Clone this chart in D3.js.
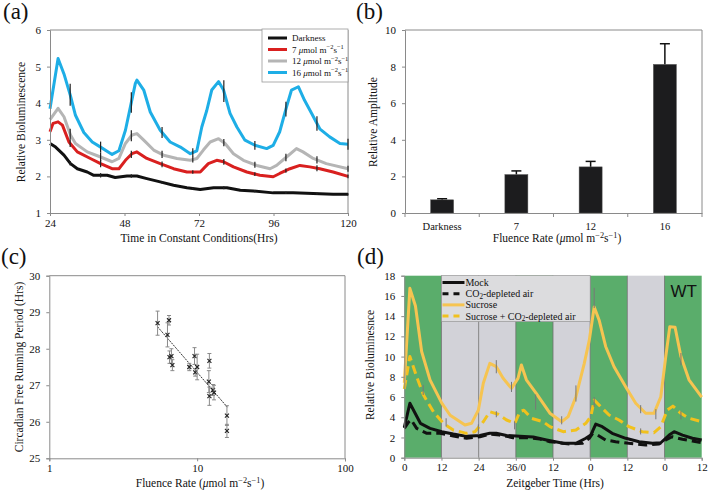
<!DOCTYPE html>
<html><head><meta charset="utf-8">
<script src="https://cdn.jsdelivr.net/npm/d3@7"></script>
<style>
body{margin:0;background:#fff}
svg{display:block}
text{font-family:"Liberation Serif","Times New Roman",serif;fill:#111}
</style>
</head><body>
<svg id="c" width="709" height="491"></svg>
<script>
// ---------- Panel (a) data ----------
const aDarkT = [24,25.8,28.5,30.6,32.8,36,38.1,42.4,45,48.8,52,55.2,59.5,63.8,68.1,72.4,76.7,81,85.3,89.5,95.9,102.3,108.8,115.2,120];
const aDarkV = [2.9,2.8,2.58,2.35,2.21,2.12,2.03,2.03,1.97,2.01,2.01,1.94,1.85,1.76,1.69,1.64,1.69,1.69,1.62,1.6,1.55,1.55,1.53,1.51,1.51];
const aRedT = [24,25,26.6,28,30.1,32.8,37,40.3,44,46.2,48.3,50.4,52,55.2,59.5,63.8,68.1,72.4,75,77.7,79.9,83.1,87.4,91.6,95.9,98,101.3,104.5,107.7,110.9,115.2,120];
const aRedV = [3.22,3.45,3.49,3.4,2.94,2.67,2.49,2.35,2.21,2.21,2.44,2.62,2.67,2.49,2.35,2.21,2.12,2.12,2.35,2.44,2.4,2.26,2.12,2.03,1.99,2.08,2.21,2.3,2.26,2.21,2.12,2.0];
const aGreyT = [24,26.6,28.5,30.6,32.2,36,40.3,44,46.2,48.3,50.4,52,54.2,57.4,60.6,64.9,69.2,71.3,73.4,75.6,78.3,80.4,83.1,86.3,90.6,94.9,97,100.2,103.4,105.5,108.8,113,120];
const aGreyV = [3.55,3.86,3.63,3.13,2.9,2.67,2.53,2.4,2.49,2.9,3.13,3.17,2.99,2.72,2.58,2.49,2.44,2.49,2.72,2.94,3.03,2.9,2.62,2.44,2.3,2.21,2.3,2.53,2.76,2.67,2.49,2.35,2.21];
const aBlueT = [24,26.6,28.5,30.6,32.2,34.9,37.6,40.3,44,46.2,48.3,49.9,51.5,52,54.2,56.3,59.5,62.7,66,69.2,71.3,72.9,74.5,76.1,78.3,79.9,82,84.2,86.8,90,93.8,95.9,98,100.2,101.8,104,106,108.3,110.9,114.1,117.4,120];
const aBlueV = [3.85,5.22,4.8,4.2,3.67,3.2,2.94,2.8,2.6,2.7,3.26,3.9,4.54,4.63,4.36,3.76,3.26,2.94,2.8,2.62,2.7,3.35,3.8,4.36,4.59,4.36,3.72,3.35,2.99,2.85,2.76,2.85,3.22,3.9,4.36,4.45,4.08,3.72,3.3,3.08,2.9,2.88];
const aErrT = [30.5,40.3,50.2,60.1,70,80,90,100,110,120];
const aDarkE = [0.06,0.06,0.05,0.04,0.03,0.04,0.03,0.03,0.03,0.03];
const aRedE = [0.1,0.1,0.1,0.08,0.05,0.08,0.05,0.06,0.08,0.05];
const aGreyE = [0.15,0.12,0.15,0.1,0.08,0.1,0.08,0.1,0.1,0.08];
const aBlueE = [0.3,0.15,0.28,0.15,0.12,0.3,0.12,0.2,0.2,0.15];
const aXTicks = [24,48,72,96,120];
const aYTicks = [1,2,3,4,5,6];
const aLegend = ["Darkness","7","12","16"];

// ---------- Panel (b) data ----------
const bCats = ["Darkness","7","12","16"];
const bVals = [0.72,2.1,2.52,8.12];
const bErr = [0.06,0.2,0.3,1.13];
const bYTicks = [0,2,4,6,8,10];

// ---------- Panel (c) data ----------
const cX = [5.4,6.45,6.3,6.5,6.7,6.8,8.85,9.6,9.7,10.0,12.1,12.0,12.1,12.8,13.0,15.9,15.9];
const cY = [28.7,28.78,28.38,27.77,27.8,27.55,27.5,27.8,27.35,27.5,27.67,27.1,26.7,26.87,26.8,26.17,25.75];
const cE = [0.33,0.13,0.33,0.17,0.2,0.15,0.1,0.23,0.1,0.35,0.2,0.3,0.25,0.15,0.2,0.27,0.18];
const cFitX = [5.4,16];
const cFitY = [28.6,26.4];
const cXTicks = [1,10,100];
const cYTicks = [25,26,27,28,29,30];

// ---------- Panel (d) data ----------
const dMockT = [0,1.8,3.5,5.2,8.3,12.1,15.8,20.1,24.4,27.6,29.7,33,37.3,41.6,45.9,51.3,55.4,58.6,60.2,61.8,63.9,67.1,71.5,75.8,80.1,82.8,85.5,87.1,89.8,93,96];
const dMockV = [3.0,5.38,4.39,3.4,2.9,2.57,2.34,2.11,2.2,2.41,2.41,2.2,2.11,2.04,1.75,1.42,1.42,1.92,2.24,3.33,3.07,2.41,1.92,1.58,1.42,1.48,2.24,2.57,2.24,1.92,1.75];
const dCO2T = [0,1.3,2.2,4,7.3,11.5,15.8,20.1,24.4,27.6,30.8,35.1,39.4,43.7,47,53.5,57.5,59.7,60.8,62.4,65,68.2,72.5,77.9,82.2,84.4,86.5,89.8,93,96];
const dCO2V = [2.9,3.5,3.75,2.9,2.41,2.41,2.15,1.92,2.07,2.34,2.24,1.98,1.98,1.85,1.58,1.35,1.42,1.92,2.41,2.24,1.75,1.58,1.42,1.25,1.35,1.75,2.07,1.82,1.65,1.48];
const dSucT = [0,1.8,3.6,5.6,8.3,12.1,14.8,19.6,21.7,23.9,25.5,27.6,29.7,31.9,34.6,36.7,37.8,39.4,42.6,47,50.8,52.9,55.4,58.1,59.7,61.3,62.9,65,67.7,71.5,74.7,77.9,80.6,82.8,84.4,85.7,87.4,89.3,91.9,96];
const dSucV = [7.4,16.75,15.0,10.5,7.7,5.4,4.2,3.23,3.4,4.7,7.36,9.33,9.0,7.85,6.86,7.85,9.17,7.7,6.37,4.4,3.56,4.06,6.03,9.33,11.6,14.9,13.6,11.0,9.0,7.0,5.38,4.39,4.39,6.03,10.0,12.96,12.9,10.0,7.7,6.0];
const dSucCO2T = [0,1.8,4,6.2,9.4,12.6,15.8,20.1,22.8,25.5,27.6,30.3,33,35.7,37.3,38.6,41,44.8,47,51.3,55.4,58.6,60.2,61.3,62.9,66.1,69.3,72.5,76.8,80.6,82.8,84.9,86.7,89.3,91.9,96];
const dSucCO2V = [6.8,10.0,8.0,6.2,4.55,3.4,2.74,2.41,2.57,3.56,4.55,4.3,3.73,3.4,4.55,4.7,3.9,3.56,3.07,2.57,2.74,3.4,4.06,5.7,5.2,4.22,3.73,3.07,2.57,2.47,3.07,4.72,5.1,4.39,3.9,3.56];
const dErrT = [6.1,13.5,23.9,29.7,29.7,34.6,35.6,42.4,50.8,55.4,61.3,61.3,76.3,76.3,81.2,89.3,89.3];
const dErrV = [6.7,3.5,2.8,9.0,4.3,7.0,3.2,5.5,3.7,6.35,15.8,5.5,4.8,2.6,4.3,9.75,4.2];
const dErrE = [0.5,0.4,0.5,0.65,0.3,0.5,0.4,0.75,0.4,0.8,1.0,0.5,0.4,0.3,0.5,0.6,0.4];
const dBandStart = [0,12,24,36,48,60,72,84];
const dBandKind = ["green","grey","grey","green","grey","green","grey","green"];
const dXTicks = [0,12,24,36,48,60,72,84,96];
const dXLabels = ["0","12","24","36/0","12","0","12","0","12"];
const dYTicks = [0,2,4,6,8,10,12,14,16,18];

// ---------- helpers ----------
const svg = d3.select("#c");
const AXC = "#8a8a8a";
const SERIF = '"Liberation Serif","Times New Roman",serif';

function richText(sel, parts, base, subShift) {
  let shift = 0;
  parts.forEach(([t, k]) => {
    const ts = sel.append("tspan").text(t);
    const target = k === "sup" ? -0.38*base : k === "sub" ? (subShift || 0.28)*base : 0;
    ts.attr("dy", target - shift);
    shift = target;
    if (k === "sup" || k === "sub") ts.attr("font-size", (base*0.72) + "px");
    if (k === "i") ts.attr("font-style", "italic");
  });
}
const unitParts = [["μ","i"],["mol m",""],["−2","sup"],["s",""],["−1","sup"],["",""]];

function styleAxis(g, fs) {
  g.attr("font-family", SERIF);
  g.select(".domain").attr("stroke", AXC);
  g.selectAll(".tick line").attr("stroke", AXC);
  g.selectAll(".tick text").style("font-family", SERIF)
    .attr("font-size", fs + "px").attr("fill", "#111");
}
function frame(x0, x1, y0, y1) {
  svg.append("path").attr("d", `M${x0},${y0}H${x1}V${y1}`).attr("fill","none").attr("stroke", AXC).attr("stroke-width",1);
}
function interp(T, V, t) {
  for (let i = 1; i < T.length; i++) {
    if (t <= T[i]) { const f = (t - T[i-1])/(T[i]-T[i-1]); return V[i-1] + f*(V[i]-V[i-1]); }
  }
  return V[V.length-1];
}
function panelLabel(txt, x, y) {
  svg.append("text").attr("x", x).attr("y", y).attr("font-size","23px").text(txt);
}
const fmtInt = d3.format("d");

// ================= Panel (a) =================
{
  const x = d3.scaleLinear().domain([24,120]).range([50,348]);
  const y = d3.scaleLinear().domain([1,6]).range([213,30]);
  frame(x(24), x(120), y(6), y(1));
  const series = [
    {T:aDarkT, V:aDarkV, E:aDarkE, c:"#111111"},
    {T:aRedT, V:aRedV, E:aRedE, c:"#d9201f"},
    {T:aGreyT, V:aGreyV, E:aGreyE, c:"#b5b5b5"},
    {T:aBlueT, V:aBlueV, E:aBlueE, c:"#1eaee6"}
  ];
  const line = d3.line();
  series.forEach(s => {
    svg.append("path").attr("d", line(s.T.map((t,i)=>[x(t), y(s.V[i])])))
      .attr("fill","none").attr("stroke", s.c).attr("stroke-width",3).attr("stroke-linejoin","round");
  });
  series.forEach(s => {
    aErrT.forEach((t,i) => {
      const v = interp(s.T, s.V, t);
      svg.append("line").attr("x1", x(t)).attr("x2", x(t))
        .attr("y1", y(v - s.E[i])).attr("y2", y(v + s.E[i]))
        .attr("stroke","#222").attr("stroke-width",1.2);
    });
  });
  const gx = svg.append("g").attr("transform",`translate(0,${y(1)})`)
    .call(d3.axisBottom(x).tickValues(aXTicks).tickFormat(fmtInt).tickSize(3).tickPadding(3));
  styleAxis(gx, 11);
  const gy = svg.append("g").attr("transform",`translate(${x(24)},0)`)
    .call(d3.axisLeft(y).tickValues(aYTicks).tickFormat(fmtInt).tickSize(3).tickPadding(6));
  styleAxis(gy, 11);
  svg.append("text").attr("x", 199).attr("y", 242).attr("text-anchor","middle").attr("font-size","11.5px")
    .text("Time in Constant Conditions(Hrs)");
  svg.append("text").attr("transform","translate(25,122) rotate(-90)").attr("text-anchor","middle")
    .attr("font-size","11.5px").text("Relative Bioluminescence");
  const lx0 = 262, ly0 = 29;
  svg.append("rect").attr("x", lx0).attr("y", ly0).attr("width", 86).attr("height", 53)
    .attr("fill","#fff").attr("stroke","#9a9a9a").attr("stroke-width",0.8);
  series.forEach((s,i) => {
    const yy = ly0 + 9 + i*11.5;
    svg.append("line").attr("x1", lx0+6).attr("x2", lx0+25).attr("y1", yy).attr("y2", yy)
      .attr("stroke", s.c).attr("stroke-width",3);
    const t = svg.append("text").attr("x", lx0+30).attr("y", yy+3).attr("font-size","9px");
    if (i === 0) t.text(aLegend[0]);
    else richText(t, [[aLegend[i]+" ",""]].concat(unitParts), 9);
  });
  panelLabel("(a)", 3, 19);
}

// ================= Panel (b) =================
{
  const x = d3.scaleBand().domain(bCats).range([405,702]);
  const y = d3.scaleLinear().domain([0,10]).range([213,30]);
  frame(405, 702, y(10), y(0));
  const bw = 23;
  bCats.forEach((c,i) => {
    const cx = x(c) + x.bandwidth()/2;
    svg.append("line").attr("x1", cx).attr("x2", cx).attr("y1", y(bVals[i])).attr("y2", y(bVals[i]+bErr[i]))
      .attr("stroke","#111").attr("stroke-width",1.5);
    svg.append("line").attr("x1", cx-5).attr("x2", cx+5).attr("y1", y(bVals[i]+bErr[i])).attr("y2", y(bVals[i]+bErr[i]))
      .attr("stroke","#111").attr("stroke-width",1.5);
    svg.append("rect").attr("x", cx-bw/2).attr("y", y(bVals[i])).attr("width", bw)
      .attr("height", y(0)-y(bVals[i])).attr("fill","#1c1c1e").attr("stroke","#555").attr("stroke-width",0.5);
  });
  const gx = svg.append("g").attr("transform",`translate(0,${y(0)})`)
    .call(d3.axisBottom(x).tickSize(0).tickPadding(10));
  styleAxis(gx, 10.5);
  [0,1,2,3,4].forEach(k => {
    const xx = 405 + k*x.bandwidth();
    svg.append("line").attr("x1", xx).attr("x2", xx).attr("y1", y(0)).attr("y2", y(0)+4).attr("stroke", AXC);
  });
  const gy = svg.append("g").attr("transform",`translate(405,0)`)
    .call(d3.axisLeft(y).tickValues(bYTicks).tickFormat(fmtInt).tickSize(3).tickPadding(6));
  styleAxis(gy, 11);
  const t = svg.append("text").attr("x", 557).attr("y", 242).attr("text-anchor","middle").attr("font-size","11.5px");
  richText(t, [["Fluence Rate (",""]].concat(unitParts.slice(0,5)).concat([[")",""]]), 11.5);
  svg.append("text").attr("transform","translate(377,122) rotate(-90)").attr("text-anchor","middle")
    .attr("font-size","11.5px").text("Relative Amplitude");
  panelLabel("(b)", 356, 19);
}

// ================= Panel (c) =================
{
  const x = d3.scaleLog().domain([1,100]).range([49.3,345]);
  const y = d3.scaleLinear().domain([25,30]).range([458.3,275.7]);
  frame(x(1), x(100), y(30), y(25));
  svg.append("path").attr("d", d3.line()(cFitX.map((v,i)=>[x(v), y(cFitY[i])])))
    .attr("stroke","#333").attr("stroke-width",1).attr("stroke-dasharray","2,1").attr("fill","none");
  cX.forEach((v,i) => {
    const px = x(v), py = y(cY[i]);
    const ep = y(cY[i]+cE[i]), em = y(cY[i]-cE[i]);
    svg.append("line").attr("x1",px).attr("x2",px).attr("y1",ep).attr("y2",em).attr("stroke","#8a8a8a").attr("stroke-width",1);
    [ep, em].forEach(yy => svg.append("line").attr("x1",px-2).attr("x2",px+2).attr("y1",yy).attr("y2",yy).attr("stroke","#8a8a8a").attr("stroke-width",1));
    svg.append("path").attr("d", `M${px-2},${py-2}L${px+2},${py+2}M${px-2},${py+2}L${px+2},${py-2}`)
      .attr("stroke","#222").attr("stroke-width",1.1);
  });
  const gx = svg.append("g").attr("transform",`translate(0,${y(25)})`)
    .call(d3.axisBottom(x).tickValues(cXTicks).tickFormat(fmtInt).tickSize(3).tickPadding(3));
  styleAxis(gx, 11);
  const gy = svg.append("g").attr("transform",`translate(${x(1)},0)`)
    .call(d3.axisLeft(y).tickValues(cYTicks).tickFormat(fmtInt).tickSize(3).tickPadding(6));
  styleAxis(gy, 11);
  const t = svg.append("text").attr("x", 200).attr("y", 487).attr("text-anchor","middle").attr("font-size","11.5px");
  richText(t, [["Fluence Rate (",""]].concat(unitParts.slice(0,5)).concat([[")",""]]), 11.5);
  svg.append("text").attr("transform","translate(23,367) rotate(-90)").attr("text-anchor","middle")
    .attr("font-size","11.5px").text("Circadian Free Running Period (Hrs)");
  panelLabel("(c)", 1, 264);
}

// ================= Panel (d) =================
{
  const x = d3.scaleLinear().domain([0,96]).range([404.3,701.7]);
  const y = d3.scaleLinear().domain([0,18]).range([457.7,275.7]);
  const bandColor = {green:"#5aad6b", grey:"#d2d2d8"};
  dBandStart.forEach((b,i) => {
    svg.append("rect").attr("x", x(b)).attr("y", y(18)).attr("width", x(b+12)-x(b)).attr("height", y(0)-y(18))
      .attr("fill", bandColor[dBandKind[i]]);
  });
  dBandStart.slice(1).forEach(b => {
    svg.append("line").attr("x1", x(b)).attr("x2", x(b)).attr("y1", y(18)).attr("y2", y(0))
      .attr("stroke","#6f6f6f").attr("stroke-width",0.8);
  });
  svg.append("rect").attr("x", x(12)).attr("y", y(18)).attr("width", x(60)-x(12)).attr("height", y(13.45)-y(18))
    .attr("fill","#dcdcde").attr("stroke","#8a8a8a").attr("stroke-width",0.6);
  const line = d3.line();
  const ds = [
    {T:dMockT, V:dMockV, c:"#111", dash:null, lab:[["Mock",""]]},
    {T:dCO2T, V:dCO2V, c:"#111", dash:"9,5", lab:[["CO",""],["2","sub"],["-depleted air",""]]},
    {T:dSucT, V:dSucV, c:"#f6c451", dash:null, lab:[["Sucrose",""]]},
    {T:dSucCO2T, V:dSucCO2V, c:"#f1c11d", dash:"9,5", lab:[["Sucrose + CO",""],["2","sub"],["-depleted air",""]]}
  ];
  [1,0,3,2].forEach(k => {
    const s = ds[k];
    const p = svg.append("path").attr("d", line(s.T.map((t,i)=>[x(t), y(s.V[i])])))
      .attr("fill","none").attr("stroke", s.c).attr("stroke-width",3).attr("stroke-linejoin","round");
    if (s.dash) p.attr("stroke-dasharray", s.dash);
  });
  dErrT.forEach((t,i) => {
    svg.append("line").attr("x1", x(t)).attr("x2", x(t)).attr("y1", y(dErrV[i]-dErrE[i])).attr("y2", y(dErrV[i]+dErrE[i]))
      .attr("stroke","#777").attr("stroke-width",1);
  });
  ds.forEach((s,i) => {
    const yy = 282.5 + i*11.2;
    const l = svg.append("line").attr("x1", x(12)+1).attr("x2", x(12)+23).attr("y1", yy).attr("y2", yy)
      .attr("stroke", s.c).attr("stroke-width",3);
    if (s.dash) l.attr("stroke-dasharray","6,5");
    const t = svg.append("text").attr("x", x(12)+24).attr("y", yy+3.4).attr("font-size","10px");
    richText(t, s.lab.concat([["",""]]), 10, 0.15);
  });
  svg.append("text").attr("x", 697).attr("y", 297).attr("text-anchor","end")
    .style("font-family",'"Liberation Sans",Arial,sans-serif').attr("font-size","17px").attr("fill","#111").text("WT");
  const gx = svg.append("g").attr("transform",`translate(0,${y(0)})`)
    .call(d3.axisBottom(x).tickValues(dXTicks).tickFormat((d,i)=>dXLabels[i]).tickSize(3).tickPadding(3));
  styleAxis(gx, 11);
  const gy = svg.append("g").attr("transform",`translate(${x(0)},0)`)
    .call(d3.axisLeft(y).tickValues(dYTicks).tickFormat(fmtInt).tickSize(3).tickPadding(6));
  styleAxis(gy, 11);
  svg.append("text").attr("x", 555).attr("y", 487).attr("text-anchor","middle").attr("font-size","11.5px")
    .text("Zeitgeber Time (Hrs)");
  svg.append("text").attr("transform","translate(374,365) rotate(-90)").attr("text-anchor","middle")
    .attr("font-size","11.5px").text("Relative Bioluminesnce");
  panelLabel("(d)", 357, 264);
}
</script>
</body></html>
